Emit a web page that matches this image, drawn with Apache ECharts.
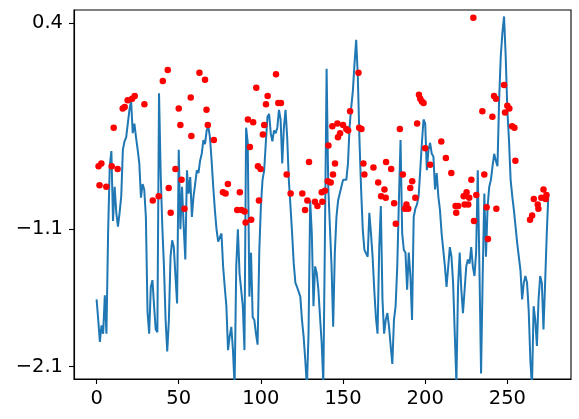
<!DOCTYPE html>
<html><head><meta charset="utf-8">
<script src="https://cdn.jsdelivr.net/npm/echarts@6/dist/echarts.min.js"></script>
<style>html,body{margin:0;padding:0;background:#fff}#c{width:579px;height:419px}</style>
</head><body><div id="c"></div>
<script>
const lineY = [-1.61,-1.76,-1.92,-1.80,-1.86,-1.58,-1.86,-1.13,-0.64,-0.53,
-1.04,-0.79,-0.98,-1.08,-0.98,-0.86,-0.52,-0.46,-0.43,-0.33,
-0.23,-0.16,-0.40,-0.33,-0.43,-0.52,-0.62,-0.87,-0.77,-0.81,
-1.01,-1.70,-1.86,-1.52,-1.47,-1.66,-1.83,-1.85,-0.11,-0.69,
-1.08,-1.37,-1.76,-1.99,-1.76,-1.30,-1.18,-1.23,-1.44,-1.64,
-0.52,-1.10,-0.79,-1.08,-1.32,-0.67,-0.84,-0.72,-1.01,-0.86,
-0.77,-0.67,-0.69,-0.60,-0.55,-0.45,-0.48,-0.38,-0.35,-0.43,
-0.60,-0.79,-0.96,-1.10,-1.19,-1.18,-1.13,-1.37,-1.52,-1.66,
-1.98,-1.88,-1.81,-1.98,-2.25,-1.37,-1.10,-1.42,-1.42,-1.66,
-1.98,-0.36,-0.47,-1.59,-1.27,-1.74,-1.76,-1.86,-1.94,-1.27,
-0.93,-0.74,-0.67,-0.47,-0.28,-0.26,-0.40,-0.46,-0.38,-0.40,
-0.36,-0.23,-0.30,-0.62,-0.36,-0.23,-0.43,-0.74,-0.93,-1.13,
-1.35,-1.49,-1.52,-1.52,-1.59,-1.76,-1.88,-2.05,-2.25,-1.86,
-0.89,-1.13,-1.66,-1.37,-1.42,-1.54,-1.74,-1.93,-2.22,-1.13,
0.07,-0.79,-1.08,-1.37,-1.81,-1.27,-1.01,-0.89,-0.89,-0.79,
-0.74,-0.74,-0.74,-0.62,-0.35,-0.21,-0.09,0.11,0.28,0.01,
-0.45,-0.81,-1.10,-1.25,-1.25,-1.30,-0.98,-1.13,-1.30,-1.54,
-1.74,-1.86,-1.25,-0.93,-1.61,-1.86,-1.76,-1.71,-1.81,-1.95,
-2.08,-1.76,-1.66,-1.37,-0.89,-0.45,-1.13,-1.25,-1.27,-1.54,
-1.27,-1.44,-1.76,-1.01,-0.95,-0.92,-0.86,-0.67,-0.47,-0.30,
-0.33,-0.67,-0.52,-0.47,-0.55,-0.57,-0.81,-0.69,-0.86,-0.96,
-1.13,-1.25,-1.37,-1.52,-1.52,-1.23,-1.30,-1.49,-1.86,-2.22,
-1.52,-1.27,-1.54,-1.71,-1.54,-1.37,-1.32,-1.35,-1.23,-1.37,
-1.44,-1.27,-0.67,-1.37,-2.15,-1.44,-0.84,-1.30,-0.93,-0.79,
-0.74,-0.64,-0.55,-0.60,-0.64,-0.16,0.16,0.33,0.45,0.16,
-0.23,-0.45,-0.74,-0.86,-0.96,-1.08,-1.20,-1.30,-1.40,-1.61,
-1.49,-1.44,-1.49,-1.69,-2.05,-2.25,-1.66,-1.76,-1.95,-1.61,
-1.44,-1.49,-1.83,-1.49,-1.13,-0.84];

const scatterX = [1.2,2.9,1.8,5.9,9.2,12.8,10.4,15.9,17.1,18.9,21.6,23.2,29.1,
34.2,37.8,43.9,45.1,40.3,43.3,48.0,51.7,53.5,50.0,51.0,57.3,57.7,62.6,66.0,66.9,67.7,
71.4,76.9,78.5,79.9,87.2,85.6,88.2,90.1,90.7,94.1,92.1,93.3,95.3,97.2,98.2,99.8,98.8,
101.2,102.0,103.1,104.1,109.2,110.6,112.2,115.7,118.1,125.2,129.3,128.3,126.9,132.9,
134.4,137.4,137.0,139.0,140.7,141.1,142.5,143.9,145.1,143.5,146.6,148.2,146.9,150.0,
152.0,153.1,154.3,159.4,159.8,161.2,162.4,163.0,168.5,171.4,173.2,175.2,176.2,176.0,
179.3,181.1,182.1,184.6,186.4,187.6,188.6,189.7,190.9,192.1,194.0,195.1,196.2,197.0,
198.0,199.0,200.0,203.0,209.8,212.6,215.9,229.3,218.5,220.1,218.9,223.4,225.2,224.0,
226.8,226.2,228.1,231.1,229.7,234.8,236.0,237.4,238.2,240.9,243.3,241.9,243.1,248.0,
248.6,250.0,251.2,252.9,254.3,254.9,263.8,265.1,266.1,268.5,268.9,270.7,272.0,273.3,273.8];
const scatterY = [-0.64,-0.62,-0.78,-0.79,-0.64,-0.66,-0.36,-0.22,-0.21,-0.16,-0.15,-0.13,-0.19,
-0.89,-0.86,-0.80,-0.98,-0.02,0.06,-0.66,-0.74,-0.95,-0.22,-0.34,-0.14,-0.42,0.04,-0.01,-0.23,-0.34,
-0.45,-0.83,-0.84,-0.77,-0.83,-0.96,-0.96,-0.97,-1.05,-1.03,-0.30,-0.50,-0.32,-0.07,-0.64,-0.66,-0.89,
-0.41,-0.34,-0.19,-0.13,0.03,-0.18,-0.18,-0.70,-0.84,-0.84,-0.61,-0.89,-0.96,-0.90,
-0.93,-0.90,-0.83,-0.82,-0.75,-0.49,-0.76,-0.70,-0.62,-0.35,-0.33,-0.40,-0.43,-0.34,
-0.37,-0.38,-0.24,0.04,-0.36,-0.37,-0.62,-0.70,-0.65,-0.76,-0.86,-0.81,-0.61,-0.87,
-0.66,-0.91,-1.06,-0.37,-0.70,-0.95,-0.92,-0.95,-0.80,-0.75,-0.87,-0.33,-0.12,-0.15,
-0.17,-0.18,-0.51,-0.63,-0.46,-0.58,-0.69,0.44,-0.93,-0.93,-0.98,-0.86,-0.83,-0.92,
-0.87,-0.92,-0.74,-0.85,-1.04,-0.24,-0.70,-0.94,-1.17,-0.28,-0.95,-0.13,-0.15,-0.05,
-0.25,-0.20,-0.22,-0.35,-0.36,-0.60,-1.03,-1.00,-0.88,-0.92,-0.95,-0.87,-0.81,-0.88,-0.85];

const xTicks = [0, 50, 100, 150, 200, 250];
const yTicks = [0.4, -1.1, -2.1];

const chart = echarts.init(document.getElementById('c'), null, {renderer: 'canvas'});
const font = {fontFamily: 'DejaVu Sans', fontSize: 19.5, color: '#000'};
chart.setOption({
  animation: false,
  backgroundColor: '#fff',
  grid: {left: 74, right: 8, top: 10, bottom: 40, show: true, borderColor: '#000', borderWidth: 1.1, containLabel: false},
  xAxis: {
    type: 'value', min: -13.75, max: 288.75,
    splitLine: {show: false},
    axisLine: {show: true, onZero: false, lineStyle: {color: '#000', width: 1.1}},
    axisTick: {show: true, length: 5, lineStyle: {color: '#000', width: 1.1}, customValues: xTicks},
    axisLabel: Object.assign({margin: 10, customValues: xTicks, formatter: v => String(v)}, font)
  },
  yAxis: {
    type: 'value', min: -2.19, max: 0.497,
    splitLine: {show: false},
    axisLine: {show: true, onZero: false, lineStyle: {color: '#000', width: 1.1}},
    axisTick: {show: true, length: 5, lineStyle: {color: '#000', width: 1.1}, customValues: yTicks},
    axisLabel: Object.assign({margin: 11, customValues: yTicks, formatter: v => (v < 0 ? '\u2212' + Math.abs(v).toFixed(1) : v.toFixed(1))}, font)
  },
  series: [
    {type: 'line', data: lineY.map((v, i) => [i, v]), showSymbol: false, symbol: 'none',
     lineStyle: {color: '#1f77b4', width: 2}, clip: true, z: 2},
    {type: 'scatter', data: scatterX.map((x, i) => [x, scatterY[i]]), symbolSize: 6.5,
     itemStyle: {color: '#ff0000', opacity: 1}, z: 3}
  ]
});
</script></body></html>
